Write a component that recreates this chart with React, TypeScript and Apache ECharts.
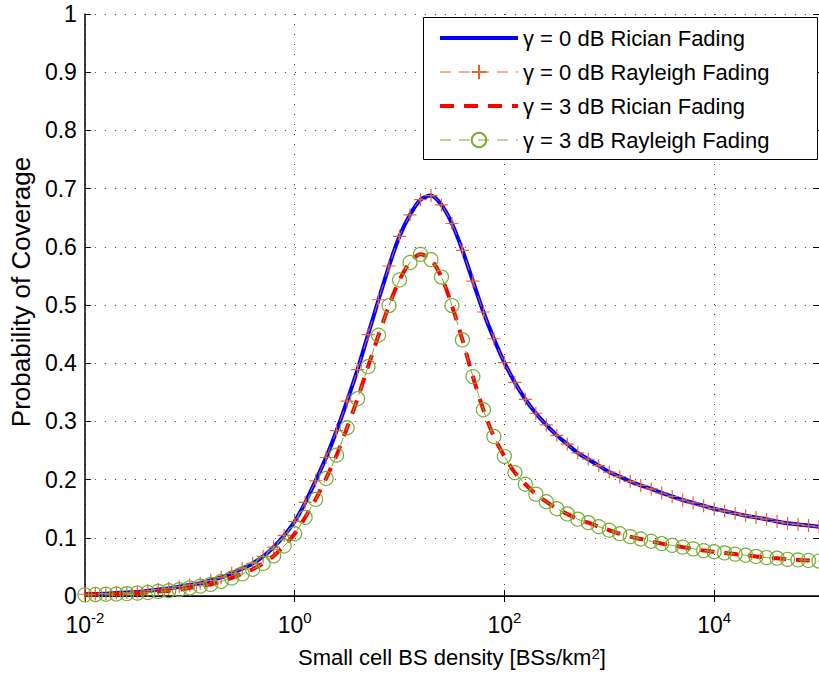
import React, { useEffect, useRef } from 'react';
import * as echarts from 'echarts';

// log10 of small-cell BS density (markers every 0.1 decade)
const densityExponents = [
  -2, -1.9, -1.8, -1.7, -1.6, -1.5, -1.4, -1.3, -1.2, -1.1,
  -1, -0.9, -0.8, -0.7, -0.6, -0.5, -0.4, -0.3, -0.2, -0.1,
  0, 0.1, 0.2, 0.3, 0.4, 0.5, 0.6, 0.7, 0.8, 0.9,
  1, 1.1, 1.2, 1.3, 1.4, 1.5, 1.6, 1.7, 1.8, 1.9,
  2, 2.1, 2.2, 2.3, 2.4, 2.5, 2.6, 2.7, 2.8, 2.9,
  3, 3.1, 3.2, 3.3, 3.4, 3.5, 3.6, 3.7, 3.8, 3.9,
  4, 4.1, 4.2, 4.3, 4.4, 4.5, 4.6, 4.7, 4.8, 4.9,
  5,
];

const ricianGamma0 = [
  0.003, 0.0035, 0.004, 0.005, 0.006, 0.007, 0.009, 0.011, 0.013, 0.016,
  0.019, 0.022, 0.027, 0.032, 0.039, 0.047, 0.056, 0.068, 0.084, 0.104,
  0.128, 0.160, 0.198, 0.238, 0.284, 0.335, 0.389, 0.449, 0.509, 0.567,
  0.618, 0.655, 0.681, 0.688, 0.672, 0.640, 0.594, 0.541, 0.488, 0.442,
  0.401, 0.367, 0.338, 0.314, 0.294, 0.276, 0.261, 0.246, 0.235, 0.224,
  0.213, 0.205, 0.197, 0.190, 0.184, 0.177, 0.171, 0.165, 0.160, 0.155,
  0.150, 0.146, 0.142, 0.138, 0.135, 0.132, 0.128, 0.125, 0.123, 0.121,
  0.119,
];

const rayleighGamma0 = [
  0.003, 0.0035, 0.004, 0.005, 0.006, 0.007, 0.009, 0.011, 0.013, 0.016,
  0.019, 0.022, 0.027, 0.032, 0.039, 0.047, 0.056, 0.068, 0.084, 0.104,
  0.128, 0.161, 0.198, 0.238, 0.284, 0.335, 0.389, 0.449, 0.509, 0.567,
  0.618, 0.655, 0.681, 0.688, 0.672, 0.640, 0.594, 0.541, 0.488, 0.442,
  0.401, 0.367, 0.338, 0.314, 0.294, 0.276, 0.261, 0.246, 0.235, 0.224,
  0.213, 0.205, 0.197, 0.190, 0.184, 0.177, 0.171, 0.165, 0.160, 0.155,
  0.150, 0.146, 0.142, 0.138, 0.135, 0.132, 0.128, 0.125, 0.123, 0.121,
  0.119,
];

const ricianGamma3 = [
  0.002, 0.0025, 0.003, 0.0035, 0.004, 0.005, 0.006, 0.008, 0.009, 0.011,
  0.014, 0.017, 0.020, 0.025, 0.031, 0.038, 0.046, 0.056, 0.069, 0.086,
  0.107, 0.135, 0.166, 0.202, 0.242, 0.289, 0.339, 0.394, 0.448, 0.499,
  0.543, 0.573, 0.587, 0.578, 0.548, 0.499, 0.440, 0.377, 0.320, 0.274,
  0.240, 0.212, 0.192, 0.175, 0.162, 0.150, 0.141, 0.132, 0.126, 0.119,
  0.113, 0.107, 0.102, 0.098, 0.094, 0.090, 0.087, 0.084, 0.081, 0.078,
  0.076, 0.074, 0.072, 0.070, 0.068, 0.066, 0.065, 0.063, 0.062, 0.061,
  0.060,
];

const rayleighGamma3 = [
  0.002, 0.0025, 0.003, 0.0035, 0.004, 0.005, 0.006, 0.008, 0.009, 0.011,
  0.014, 0.017, 0.020, 0.025, 0.031, 0.038, 0.046, 0.056, 0.069, 0.086,
  0.107, 0.135, 0.166, 0.202, 0.242, 0.289, 0.339, 0.394, 0.448, 0.499,
  0.543, 0.573, 0.587, 0.578, 0.548, 0.499, 0.440, 0.377, 0.320, 0.274,
  0.240, 0.212, 0.192, 0.175, 0.162, 0.150, 0.141, 0.132, 0.126, 0.119,
  0.113, 0.107, 0.102, 0.098, 0.094, 0.090, 0.087, 0.084, 0.081, 0.078,
  0.076, 0.074, 0.072, 0.070, 0.068, 0.066, 0.065, 0.063, 0.062, 0.061,
  0.060,
];

const seriesNames = [
  'γ = 0 dB Rician Fading',
  'γ = 0 dB Rayleigh Fading',
  'γ = 3 dB Rician Fading',
  'γ = 3 dB Rayleigh Fading',
];

const xAxisTitle = 'Small cell BS density [BSs/km';
const xAxisTitleSup = '2';
const yAxisTitle = 'Probability of Coverage';

const FONT = '"Liberation Sans", Arial, Helvetica, sans-serif';
const PLUS = 'path://M0 5H10M5 0V10';
const TRANSPARENT = 'rgba(0,0,0,0)';
const BLUE = '#0000ff';
const ORANGE = '#e5652f';
const RED = '#ff0000';
const GREEN = '#77ac30';

const toPairs = (vals: number[]) =>
  densityExponents.map((e, i) => [Math.pow(10, e), vals[i]]);

export default function App() {
  const ref = useRef<HTMLDivElement>(null);

  useEffect(() => {
    if (!ref.current) return;
    const chart = echarts.init(ref.current, undefined, { renderer: 'svg' });
    const gridLine = { show: true, lineStyle: { color: '#3a3a3a', width: 1, type: [1, 9] as any } };
    chart.setOption({
      animation: false,
      backgroundColor: '#fff',
      grid: { left: 82, top: 14, width: 738, height: 583, containLabel: false },
      graphic: [
        {
          type: 'rect',
          z: 3,
          shape: { x: 423.5, y: 17.5, width: 394, height: 142 },
          style: { fill: '#fff', stroke: '#000', lineWidth: 1 },
        },
      ],
      legend: {
        orient: 'vertical',
        left: 438,
        top: 27,
        itemWidth: 78,
        itemHeight: 18,
        itemGap: 12,
        padding: 0,
        z: 4,
        selectedMode: false,
        textStyle: { fontSize: 22, lineHeight: 22, fontFamily: FONT, color: '#000' },
        data: [
          { name: seriesNames[0], lineStyle: { color: BLUE, width: 4, type: 'solid' } },
          { name: seriesNames[1], lineStyle: { color: ORANGE, width: 1, type: [11, 8] } },
          { name: seriesNames[2], lineStyle: { color: RED, width: 4, type: [14, 10] } },
          { name: seriesNames[3], lineStyle: { color: GREEN, width: 1, type: [11, 8] } },
        ],
      },
      xAxis: [
        {
          type: 'log',
          logBase: 10,
          min: 0.01,
          max: 100000,
          interval: 2,
          position: 'bottom',
          axisLine: { show: true, lineStyle: { color: '#000', width: 1.5 } },
          axisTick: { show: true, inside: true, length: 6, lineStyle: { color: '#000' } },
          minorTick: { show: false },
          splitLine: gridLine,
          axisLabel: {
            showMaxLabel: false,
            margin: 14,
            formatter: (v: number) => {
              const e = Math.round(Math.log10(v));
              return `{b|10}{s|${e}}`;
            },
            rich: {
              b: { fontSize: 23, fontFamily: FONT, color: '#000', verticalAlign: 'bottom', lineHeight: 26 },
              s: { fontSize: 15, fontFamily: FONT, color: '#000', verticalAlign: 'top', lineHeight: 15 },
            },
          },
          name: `${xAxisTitle}{s|${xAxisTitleSup}}]`,
          nameLocation: 'middle',
          nameGap: 50,
          nameTextStyle: {
            fontSize: 22,
            fontFamily: FONT,
            color: '#000',
            rich: {
              s: { fontSize: 15, fontFamily: FONT, color: '#000', verticalAlign: 'top', lineHeight: 15 },
            },
          },
        },
        {
          type: 'log',
          logBase: 10,
          min: 0.01,
          max: 100000,
          interval: 2,
          position: 'top',
          axisLine: { show: true, lineStyle: { color: '#000', width: 1 } },
          axisTick: { show: true, inside: true, length: 6, lineStyle: { color: '#000' } },
          axisLabel: { show: false },
          splitLine: { show: false },
        },
      ],
      yAxis: [
        {
          type: 'value',
          min: 0,
          max: 1,
          interval: 0.1,
          position: 'left',
          axisLine: { show: true, lineStyle: { color: '#000', width: 1.5 } },
          axisTick: { show: true, inside: true, length: 6, lineStyle: { color: '#000' } },
          splitLine: gridLine,
          axisLabel: { fontSize: 23, fontFamily: FONT, color: '#000', margin: 8 },
          name: yAxisTitle,
          nameLocation: 'middle',
          nameGap: 47,
          nameTextStyle: { fontSize: 26, fontFamily: FONT, color: '#000', padding: [0, 0, 0, 26] },
        },
        {
          type: 'value',
          min: 0,
          max: 1,
          interval: 0.1,
          position: 'right',
          axisLine: { show: true, lineStyle: { color: '#000', width: 1 } },
          axisTick: { show: true, inside: true, length: 6, lineStyle: { color: '#000' } },
          axisLabel: { show: false },
          splitLine: { show: false },
        },
      ],
      series: [
        {
          name: seriesNames[0],
          type: 'line',
          data: toPairs(ricianGamma0),
          smooth: 0.3,
          symbol: 'none',
          color: BLUE,
          itemStyle: { color: TRANSPARENT, borderWidth: 0 },
          lineStyle: { color: BLUE, width: 4 },
          silent: true,
          z: 2,
        },
        {
          name: seriesNames[1],
          type: 'line',
          data: toPairs(rayleighGamma0),
          smooth: 0.3,
          symbol: PLUS,
          symbolSize: 13,
          showAllSymbol: true,
          color: ORANGE,
          itemStyle: { color: TRANSPARENT, borderColor: ORANGE, borderWidth: 1.2 },
          lineStyle: { color: ORANGE, width: 1, type: [11, 8] },
          silent: true,
          z: 3,
        },
        {
          name: seriesNames[2],
          type: 'line',
          data: toPairs(ricianGamma3),
          smooth: 0.3,
          symbol: 'none',
          color: RED,
          itemStyle: { color: TRANSPARENT, borderWidth: 0 },
          lineStyle: { color: RED, width: 4, type: [14, 10] },
          silent: true,
          z: 4,
        },
        {
          name: seriesNames[3],
          type: 'line',
          data: toPairs(rayleighGamma3),
          smooth: 0.3,
          symbol: 'circle',
          symbolSize: 14,
          showAllSymbol: true,
          color: GREEN,
          itemStyle: { color: TRANSPARENT, borderColor: GREEN, borderWidth: 1.2 },
          lineStyle: { color: GREEN, width: 1, type: [11, 8] },
          silent: true,
          z: 5,
        },
      ],
    });
    return () => chart.dispose();
  }, []);

  return (
    <div
      ref={ref}
      style={{ position: 'fixed', left: 0, top: 0, width: 819, height: 673, background: '#fff' }}
    />
  );
}
